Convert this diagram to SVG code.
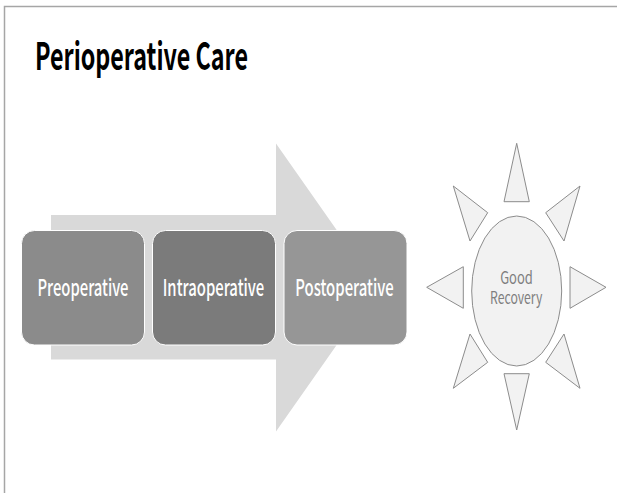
<svg xmlns="http://www.w3.org/2000/svg" width="617" height="493" viewBox="0 0 617 493">
  <style>
    .title { font-family: "Noto Sans CJK KR", "Liberation Sans", sans-serif; font-weight: bold; font-size: 38px; fill: #000; }
    .step { stroke: #ffffff; stroke-width: 1; }
    .step-label { font-family: "Noto Sans CJK KR", "Liberation Sans", sans-serif; font-weight: 500; font-size: 23px; fill: #ffffff; text-anchor: middle; }
    .ray { fill: #f2f2f2; stroke: #8c8c8c; stroke-width: 1; stroke-linejoin: miter; }
    .core { fill: #f2f2f2; stroke: #8c8c8c; stroke-width: 1; }
    .core-label { font-family: "Noto Sans CJK KR", "Liberation Sans", sans-serif; font-size: 17px; fill: #7f7f7f; text-anchor: middle; }
  </style>

  <rect width="617" height="493" fill="#ffffff"/>
  <!-- slide frame: top and left edges -->
  <path d="M4.5,493 V6.5 H617" fill="none" stroke="#a6a6a6" stroke-width="1.5"/>

  <text class="title" x="35" y="70" textLength="213" lengthAdjust="spacingAndGlyphs">Perioperative Care</text>

  <!-- background process arrow -->
  <g id="flow-arrow">
    <polygon points="51,215 276,215 276,143.5 377,287.5 276,431.5 276,359.5 51,359.5" fill="#d9d9d9"/>
  </g>

  <g id="preoperative">
    <rect class="step" x="21.5" y="230.5" width="123" height="114.5" rx="13" ry="13" style="fill:#8b8b8b"/>
    <text class="step-label" x="83" y="296" textLength="91" lengthAdjust="spacingAndGlyphs">Preoperative</text>
  </g>
  <g id="intraoperative">
    <rect class="step" x="152.5" y="230.5" width="123" height="114.5" rx="13" ry="13" style="fill:#7b7b7b"/>
    <text class="step-label" x="213.5" y="296" textLength="101.5" lengthAdjust="spacingAndGlyphs">Intraoperative</text>
  </g>
  <g id="postoperative">
    <rect class="step" x="284" y="230.5" width="123" height="114.5" rx="13" ry="13" style="fill:#969696"/>
    <text class="step-label" x="344.5" y="296" textLength="98.5" lengthAdjust="spacingAndGlyphs">Postoperative</text>
  </g>

  <!-- sun: outcome -->
  <g id="good-recovery">
    <polygon class="ray" points="516.7,143.3 529.3,201.7 504,201.7"/>
    <polygon class="ray" points="516.7,430 529.3,373.7 504,373.7"/>
    <polygon class="ray" points="426.7,287.3 463.3,266.7 463.3,308.3"/>
    <polygon class="ray" points="606,287.3 570,266.7 570,308.3"/>
    <polygon class="ray" points="453.3,186 487.7,212.7 470,241"/>
    <polygon class="ray" points="580,186 545.7,212.7 564,241"/>
    <polygon class="ray" points="453.3,388.3 487.7,362.3 470,334"/>
    <polygon class="ray" points="580,388.3 545.7,362.3 564,334"/>
    <ellipse class="core" cx="516.7" cy="291" rx="45" ry="75"/>
    <text class="core-label" x="516.5" y="284" textLength="32.7" lengthAdjust="spacingAndGlyphs">Good</text>
    <text class="core-label" x="516.2" y="304" textLength="52.3" lengthAdjust="spacingAndGlyphs">Recovery</text>
  </g>
</svg>
